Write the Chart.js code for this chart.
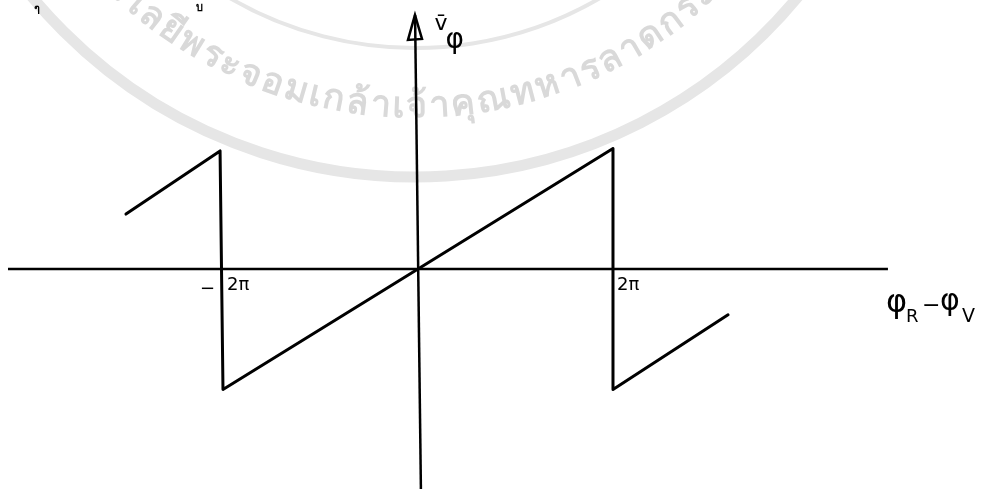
<!DOCTYPE html>
<html>
<head>
<meta charset="utf-8">
<title>sawtooth</title>
<script src="https://cdn.jsdelivr.net/npm/chart.js@4.4.1/dist/chart.umd.min.js"></script>
<style>
  html, body { margin: 0; padding: 0; background: #fff; }
  #wrap { width: 999px; height: 491px; }
</style>
</head>
<body>
<div id="wrap"><canvas id="myChart" width="999" height="491"></canvas></div>
<script>
'use strict';

// x in units of pi, y normalised to the peak
let sawX = [-2.995, -2.03, -2.0, 2.0, 2.0, 3.18];
let sawY = [0.456, 0.98, -1.0, 1.0, -1.0, -0.38];

// axis extents (data units)
let axisX = [-4.205, 4.82];
let axisY = [2.108, -1.826];

// tick labels on the phase axis
let tickPos = [-2, 2];
let tickLabels = ['−2π', '2π'];

let xMin = -4.287;
let xMax = 5.959;
let yMin = -1.842;
let yMax = 2.232;

let penFont = '"DejaVu Sans", sans-serif';
let waterText = 'สถาบันเทคโนโลยีพระจอมเกล้าเจ้าคุณทหารลาดกระบัง';

//Helper Functions
function splitThai(str) {
  // keep above / below marks with their base letter
  let out = [];
  for (let ch of str) {
    let c = ch.charCodeAt(0);
    let mark = c === 0x0E31 || (c >= 0x0E34 && c <= 0x0E3A) || (c >= 0x0E47 && c <= 0x0E4E);
    if (mark && out.length) {
      out[out.length - 1] += ch;
    } else {
      out.push(ch);
    }
  }
  return out;
}

let watermark = {
  id: 'watermark',
  beforeDatasetsDraw(chart) {
    let ctx = chart.ctx;
    let cx = chart.scales.x.getPixelForValue(0) - 3;
    let cy = -320;
    ctx.save();
    ctx.strokeStyle = '#e6e6e6';
    ctx.lineWidth = 11;
    ctx.beginPath();
    ctx.arc(cx, cy, 497, 0.1 * Math.PI, 0.9 * Math.PI);
    ctx.stroke();
    ctx.lineWidth = 4;
    ctx.beginPath();
    ctx.arc(cx, cy, 368, 0.2 * Math.PI, 0.8 * Math.PI);
    ctx.stroke();

    ctx.fillStyle = '#d9d9d9';
    ctx.font = 'bold 36px ' + penFont;
    ctx.textAlign = 'center';
    ctx.textBaseline = 'middle';
    let r = 428;
    let parts = splitThai(waterText);
    let widths = [];
    for (let p of parts) {
      widths.push(ctx.measureText(p).width + 2);
    }
    // "พระ" sits around x = 190
    let startIdx = parts.indexOf('พ');
    let before = 0;
    for (let i = 0; i < startIdx; i++) {
      before += widths[i];
    }
    let angP = Math.asin((180 - cx) / r);
    let ang = angP - before / r;
    for (let i = 0; i < parts.length; i++) {
      let a = ang + widths[i] / 2 / r;
      let px = cx + r * Math.sin(a);
      let py = cy + r * Math.cos(a);
      ctx.save();
      ctx.translate(px, py);
      ctx.rotate(-a);
      ctx.fillText(parts[i], 0, 0);
      ctx.restore();
      ang += widths[i] / r;
    }
    ctx.restore();
  }
};

let penLabels = {
  id: 'penLabels',
  afterDatasetsDraw(chart) {
    let ctx = chart.ctx;
    let xs = chart.scales.x;
    let ys = chart.scales.y;
    ctx.save();
    ctx.fillStyle = '#000';
    ctx.strokeStyle = '#000';

    // arrow head on top of the vertical axis
    let tipX = xs.getPixelForValue(0) - 3;
    let tipY = ys.getPixelForValue(axisY[0]);
    ctx.lineWidth = 2.5;
    ctx.beginPath();
    ctx.moveTo(tipX, tipY);
    ctx.lineTo(tipX - 7, tipY + 25);
    ctx.lineTo(tipX + 7, tipY + 24);
    ctx.closePath();
    ctx.stroke();

    // tick labels
    ctx.textBaseline = 'alphabetic';
    ctx.font = '18px ' + penFont;
    let base = ys.getPixelForValue(0) + 21;
    for (let i = 0; i < tickPos.length; i++) {
      let px = xs.getPixelForValue(tickPos[i]);
      let txt = tickLabels[i];
      if (txt.charAt(0) === '−') {
        ctx.textAlign = 'right';
        ctx.fillText('−', px - 8, base + 4);
        txt = txt.slice(1);
      }
      ctx.textAlign = 'left';
      ctx.fillText(txt, px + 4, base);
    }

    // vertical axis label
    let vx = xs.getPixelForValue(0.17);
    ctx.textAlign = 'left';
    ctx.font = '22px ' + penFont;
    ctx.fillText('v̄', vx, 30);
    ctx.font = '28px ' + penFont;
    ctx.fillText('φ', vx + 11, 48);

    // horizontal axis label
    let hx = xs.getPixelForValue(4.8);
    let hy = ys.getPixelForValue(-0.26);
    ctx.font = '32px ' + penFont;
    ctx.fillText('φ', hx, hy + 12);
    ctx.font = '18px ' + penFont;
    ctx.fillText('R', hx + 20, hy + 22);
    ctx.font = '22px ' + penFont;
    ctx.fillText('−', hx + 36, hy + 12);
    ctx.font = '30px ' + penFont;
    ctx.fillText('φ', hx + 54, hy + 10);
    ctx.font = '19px ' + penFont;
    ctx.fillText('V', hx + 76, hy + 22);

    // scan marks at the top
    ctx.font = 'bold 11px ' + penFont;
    ctx.fillText('ๆ', 34, 12);
    ctx.fillText('บ', 196, 11);
    ctx.restore();
  }
};

function pointsOf(xArr, yArr) {
  let pts = [];
  for (let i = 0; i < xArr.length; i++) {
    pts.push({ x: xArr[i], y: yArr[i] });
  }
  return pts;
}

const data = {
  datasets: [{
    label: 'phase axis',
    data: pointsOf(axisX, [0, 0]),
    borderColor: '#000',
    borderWidth: 2.5,
    pointRadius: 0,
    showLine: true
  }, {
    label: 'v axis',
    data: pointsOf([-0.03, 0.03], axisY),
    borderColor: '#000',
    borderWidth: 2.5,
    pointRadius: 0,
    showLine: true
  }, {
    label: 'detector output',
    data: pointsOf(sawX, sawY),
    borderColor: '#000',
    borderWidth: 3,
    pointRadius: 0,
    showLine: true,
    borderJoinStyle: 'round',
    borderCapStyle: 'round'
  }]
};

const config = {
  type: 'scatter',
  data: data,
  options: {
    responsive: false,
    animation: false,
    devicePixelRatio: 1,
    layout: { padding: 0 },
    plugins: {
      legend: { display: false },
      tooltip: { enabled: false }
    },
    scales: {
      x: { type: 'linear', min: xMin, max: xMax, display: false },
      y: { type: 'linear', min: yMin, max: yMax, display: false }
    }
  },
  plugins: [watermark, penLabels]
};

const myChart = new Chart(
  document.getElementById('myChart'),
  config
);
</script>
</body>
</html>
